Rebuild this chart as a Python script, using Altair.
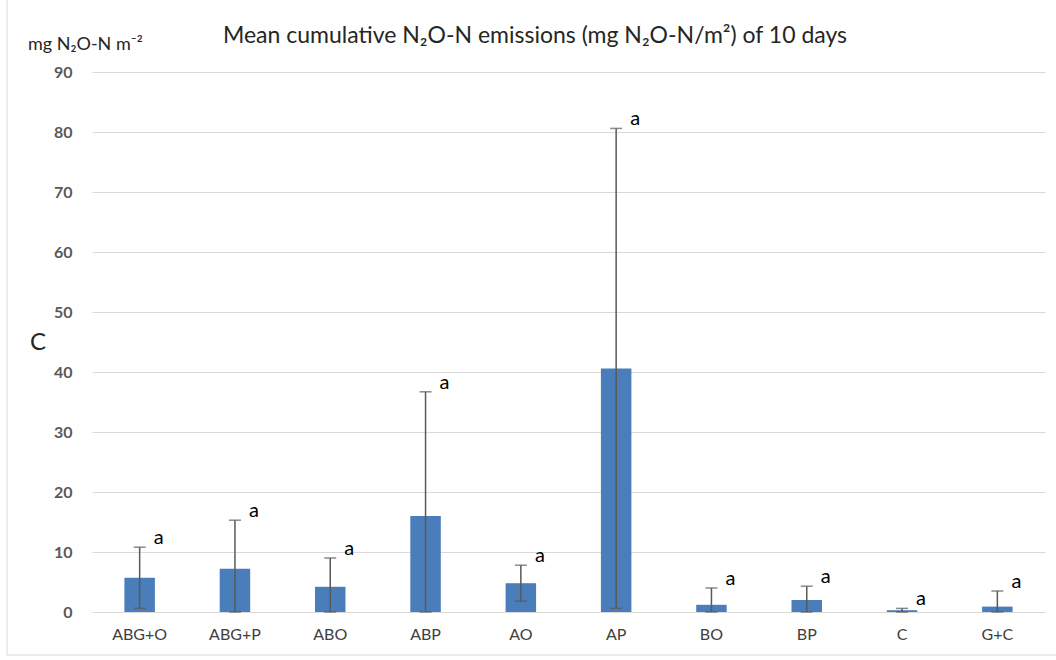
import altair as alt
import pandas as pd

categories = ["ABG+O", "ABG+P", "ABO", "ABP", "AO", "AP", "BO", "BP", "C", "G+C"]
means = [5.7, 7.2, 4.2, 16.0, 4.8, 40.6, 1.2, 2.0, 0.3, 0.9]
sds = [5.1, 8.1, 4.8, 20.7, 3.0, 40.0, 2.8, 2.3, 0.3, 2.6]
letters = ["a"] * 10

df = pd.DataFrame({
    "cat": categories,
    "mean": means,
    "sd": sds,
    "letter": letters,
})
df["high"] = df["mean"] + df["sd"]
df["low"] = (df["mean"] - df["sd"]).clip(lower=0)

FONT = "Lato"
W, H = 953, 540

xs = alt.Scale(paddingInner=0.68, paddingOuter=0.34)
yscale = alt.Scale(domain=[0, 90])
xe = alt.X("cat:N", sort=categories, scale=xs, title=None)

base = alt.Chart(df)

bars = base.mark_bar(color="#4a7ebb").encode(
    x=xe,
    y=alt.Y("mean:Q", scale=yscale, title=None),
)
err = base.mark_rule(color="#595959", strokeWidth=1.5).encode(
    x=xe, y=alt.Y("low:Q", scale=yscale, title=None), y2="high:Q"
)
cap_hi = base.mark_tick(color="#595959", thickness=1.5, size=12, orient="horizontal").encode(
    x=xe, y=alt.Y("high:Q", scale=yscale, title=None)
)
cap_lo = base.mark_tick(color="#595959", thickness=1.5, size=12, orient="horizontal").encode(
    x=xe, y=alt.Y("low:Q", scale=yscale, title=None)
)
lett = base.mark_text(fontSize=20, font=FONT, color="black", dx=19, dy=-9).encode(
    x=xe, y=alt.Y("high:Q", scale=yscale, title=None), text="letter:N"
)

title = alt.Chart(pd.DataFrame({"t": ["Mean cumulative N\u2082O-N emissions  (mg N\u2082O-N/m\u00b2) of 10 days"]})).mark_text(
    fontSize=23, font=FONT, color="#262626", align="center", baseline="middle"
).encode(x=alt.value(443), y=alt.value(-36), text="t:N")

ytitle = alt.Chart(pd.DataFrame({"t": ["mg N\u2082O-N m\u207b\u00b2"]})).mark_text(
    fontSize=18, font=FONT, color="#262626", align="left", baseline="middle"
).encode(x=alt.value(-64), y=alt.value(-27), text="t:N")

cl = alt.Chart(pd.DataFrame({"t": ["C"]})).mark_text(
    fontSize=24, font=FONT, color="#262626", align="left", baseline="middle"
).encode(x=alt.value(-62), y=alt.value(271), text="t:N")

border = alt.Chart(pd.DataFrame({"t": [0]})).mark_rect(
    fill=None, stroke="#d9d9d9", strokeWidth=1
).encode(x=alt.value(-85), x2=alt.value(W + 20), y=alt.value(-80), y2=alt.value(H + 43))

chart = alt.layer(border, bars, err, cap_hi, cap_lo, lett, title, ytitle, cl).properties(
    width=W, height=H,
    autosize=alt.AutoSizeParams(type="none"),
    padding={"left": 92, "top": 72, "right": 11, "bottom": 48},
    background="white",
).configure_view(stroke=None).configure_axisX(
    labelAngle=0, ticks=False, domain=True, domainColor="#d9d9d9", grid=False,
    labelPadding=14, labelFontSize=16, labelColor="#404040", labelFont=FONT,
).configure_axisY(
    tickCount=10, grid=True, gridColor="#d9d9d9", domain=False, ticks=False,
    labelPadding=20, labelFontSize=16, labelColor="#595959", labelFont=FONT,
    labelFontWeight="bold",
)

chart.save("out.html", embed_options={"renderer": "svg", "actions": False})
